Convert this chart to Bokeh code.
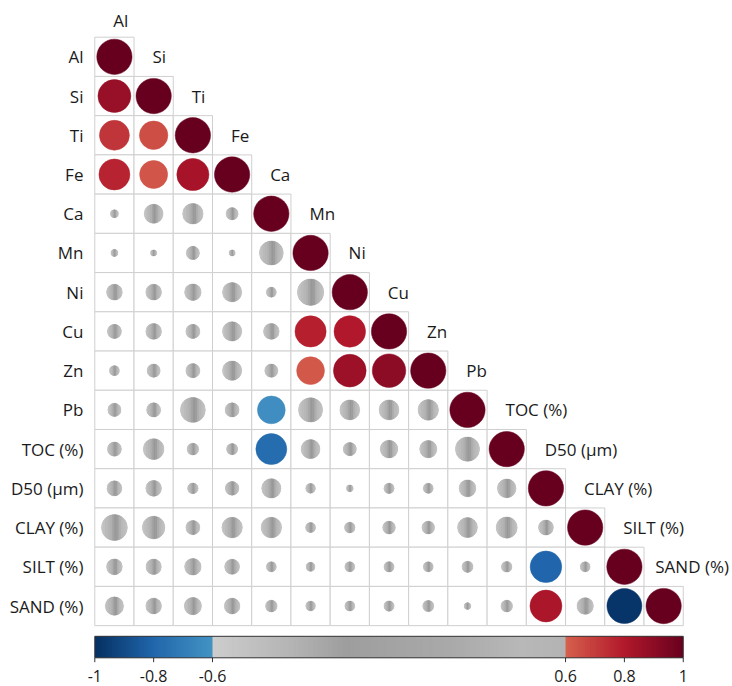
import numpy as np
from bokeh.plotting import figure
from bokeh.models import Range1d
from bokeh.core.properties import value
from bokeh.embed import file_html
from bokeh.resources import INLINE

# ---------------- data ----------------
labels = ["Al", "Si", "Ti", "Fe", "Ca", "Mn", "Ni", "Cu", "Zn", "Pb",
          "TOC (%)", "D50 (µm)", "CLAY (%)", "SILT (%)", "SAND (%)"]

r_al = [1.0]
r_si = [0.87, 1.0]
r_ti = [0.72, 0.65, 1.0]
r_fe = [0.77, 0.63, 0.83, 1.0]
r_ca = [0.05, -0.29, -0.34, 0.12, 1.0]
r_mn = [0.04, 0.03, 0.14, 0.03, 0.46, 1.0]
r_ni = [0.20, 0.20, 0.22, 0.30, 0.08, 0.56, 1.0]
r_cu = [0.16, 0.20, 0.16, 0.30, 0.20, 0.78, 0.80, 1.0]
r_zn = [0.08, 0.14, 0.16, 0.30, 0.14, 0.62, 0.86, 0.90, 1.0]
r_pb = [0.14, 0.16, 0.50, 0.16, -0.62, 0.47, 0.32, 0.32, 0.34, 1.0]
r_toc = [0.16, 0.35, 0.11, 0.10, -0.77, 0.29, 0.14, 0.25, 0.24, 0.47, 1.0]
r_d50 = [0.18, 0.20, 0.09, 0.15, 0.30, 0.075, 0.036, 0.085, 0.08, 0.23, 0.28, 1.0]
r_clay = [0.54, 0.41, 0.16, 0.34, 0.34, 0.08, 0.09, 0.13, 0.13, 0.32, 0.36, -0.18, 1.0]
r_silt = [0.20, 0.19, 0.22, 0.18, 0.08, 0.065, 0.08, 0.085, 0.08, 0.10, 0.09, -0.80, 0.08, 1.0]
r_sand = [0.27, 0.20, 0.24, 0.20, 0.11, 0.075, 0.08, 0.085, 0.10, 0.036, 0.11, 0.82, -0.22, -0.98, 1.0]

corr_rows = [r_al, r_si, r_ti, r_fe, r_ca, r_mn, r_ni, r_cu, r_zn, r_pb,
             r_toc, r_d50, r_clay, r_silt, r_sand]

tick_values = [-1, -0.8, -0.6, 0.6, 0.8, 1]
tick_labels = ["-1", "-0.8", "-0.6", "0.6", "0.8", "1"]

# colour stops
blue_stops = [(-1.0, "#053061"), (-0.8, "#2166ac"), (-0.6, "#4393c3")]
red_stops = [(0.6, "#d6604d"), (0.8, "#b2182b"), (1.0, "#67001f")]
gray_bar_stops = [(-0.6, "#cdcdcd"), (-0.35, "#b6b6b6"), (-0.15, "#9e9e9e"),
                  (0.2, "#a9a9a9"), (0.45, "#b8b8b8"), (0.6, "#b3b3b3")]
gray_circle_stops = [(0.0, "#c8c8c8"), (0.35, "#b4b4b4"), (0.58, "#949494"),
                     (0.75, "#b6b6b6"), (1.0, "#c4c4c4")]


def hex2rgb(h):
    h = h.lstrip("#")
    return np.array([int(h[i:i + 2], 16) for i in (0, 2, 4)], dtype=float)


def interp(stops, v):
    xs = [s[0] for s in stops]
    cs = np.array([hex2rgb(s[1]) for s in stops])
    rgb = [np.interp(v, xs, cs[:, k]) for k in range(3)]
    return "#%02x%02x%02x" % tuple(int(round(c)) for c in rgb)


n = len(labels)
cell_px = 39.23
W, H = 732, 686
grid_left_px, grid_top_px = 94.3, 36.7
x0 = -grid_left_px / cell_px
x1 = x0 + W / cell_px
y1 = n + grid_top_px / cell_px
y0 = y1 - H / cell_px


def py2y(py):
    return y1 - py / cell_px


def px2x(px):
    return x0 + px / cell_px


p = figure(width=W, height=H, x_range=Range1d(x0, x1), y_range=Range1d(y0, y1),
           output_backend="svg", toolbar_location=None, title=None,
           min_border=0, min_border_left=0, min_border_right=0,
           min_border_top=0, min_border_bottom=0)
p.xaxis.visible = False
p.yaxis.visible = False
p.grid.visible = False
p.outline_line_color = None
p.background_fill_color = "white"
p.border_fill_color = "white"

# ---------------- cells ----------------
cx, cy, rv = [], [], []
for i, row in enumerate(corr_rows):
    for j, r in enumerate(row):
        cx.append(j + 0.5)
        cy.append(n - i - 0.5)
        rv.append(r)
cx = np.array(cx); cy = np.array(cy); rv = np.array(rv)
rad = 0.45 * np.sqrt(np.abs(rv))

p.rect(x=cx, y=cy, width=1, height=1, fill_color="white",
       line_color="#cfcfcf", line_width=1)

# coloured circles
strong = np.abs(rv) >= 0.6
col = [interp(red_stops, r) if r > 0 else interp(blue_stops, r) for r in rv[strong]]
p.circle(x=cx[strong], y=cy[strong], radius=rad[strong], fill_color=col,
         line_color=col, line_width=0.5)

# gray circles with horizontal shading
weak = ~strong
p.circle(x=cx[weak], y=cy[weak], radius=rad[weak], fill_color="#b0b0b0",
         line_color=None)
xs_all, ys_all, fc = [], [], []
N = 12
for x_c, y_c, R in zip(cx[weak], cy[weak], rad[weak]):
    edges = np.linspace(-R, R, N + 1)
    for k in range(N):
        xs = np.linspace(edges[k], edges[k + 1], 4)
        top = np.sqrt(np.clip(R ** 2 - xs ** 2, 0, None))
        px = np.concatenate([x_c + xs, x_c + xs[::-1]])
        pyy = np.concatenate([y_c + top, y_c - top[::-1]])
        xs_all.append(list(px)); ys_all.append(list(pyy))
        fc.append(interp(gray_circle_stops, (k + 0.5) / N))
p.patches(xs=xs_all, ys=ys_all, fill_color=fc, line_color=fc, line_width=0.3)

# ---------------- labels ----------------
font = value("Open Sans")
p.text(x=[-0.29] * n, y=[n - i - 0.5 for i in range(n)], text=labels,
       text_align="right", text_baseline="middle", text_font=font,
       text_font_size="17px", text_color="#1a1a1a")

# diagonal (column) labels: left-aligned at column centre, one row above the diagonal
top_y = [min(n - j + 0.5, py2y(19.7)) for j in range(n)]
p.text(x=[j + 0.47 for j in range(n - 1)], y=top_y[:-1], text=labels[:-1],
       text_align="left", text_baseline="middle", text_font=font,
       text_font_size="17px", text_color="#1a1a1a")
# last label is pulled in so that it stays inside the page
p.text(x=[px2x(728.5)], y=top_y[-1:], text=labels[-1:],
       text_align="right", text_baseline="middle", text_font=font,
       text_font_size="17px", text_color="#1a1a1a")

# ---------------- colour bar ----------------
cb_top = py2y(635.8)
cb_bot = py2y(657.3)
vals = np.linspace(-1, 1, 241)
lefts = (vals[:-1] + 1) / 2 * n
rights = np.minimum((vals[1:] + 1) / 2 * n + 0.03, n)
mids = (vals[:-1] + vals[1:]) / 2
seg_col = []
for v in mids:
    if v <= -0.6:
        seg_col.append(interp(blue_stops, v))
    elif v >= 0.6:
        seg_col.append(interp(red_stops, v))
    else:
        seg_col.append(interp(gray_bar_stops, v))
p.quad(left=lefts, right=rights, top=cb_top, bottom=cb_bot, fill_color=seg_col,
       line_color=None)
p.quad(left=[0], right=[n], top=[cb_top], bottom=[cb_bot], fill_color=None,
       line_color="#333333", line_width=1)

tx = [(t + 1) / 2 * n for t in tick_values]
p.segment(x0=tx, y0=[cb_bot] * len(tx), x1=tx, y1=[py2y(661.7)] * len(tx),
          line_color="#333333", line_width=1)
p.text(x=tx, y=[py2y(675.5)] * len(tx), text=tick_labels, text_align="center",
       text_baseline="middle", text_font=font, text_font_size="16px",
       text_color="#1a1a1a")

open("out.html", "w").write(file_html(p, INLINE))
